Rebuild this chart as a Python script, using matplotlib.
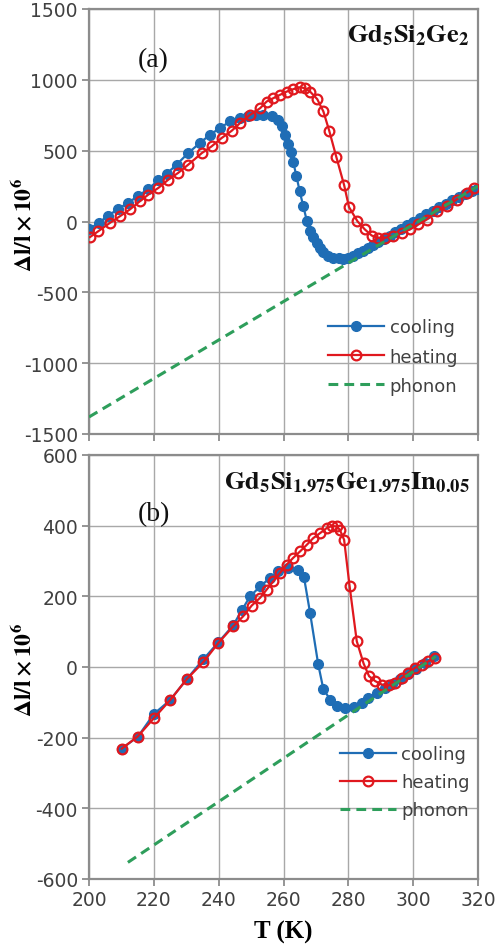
import matplotlib
matplotlib.use("Agg")
import matplotlib.pyplot as plt

# ---------------- data ----------------
# Panel (a) Gd5Si2Ge2
T_a_cool = [200, 203, 206, 209, 212, 215, 218.3, 221.4, 224, 227, 230.6, 234.2, 237.3, 240.4,
            243.5, 246.6, 249.1, 251.5, 253.8, 256.3, 258.2, 259.5, 260.5, 261.4, 262.2, 263,
            264, 265, 266.1, 267.2, 268.2, 269.2, 270.2, 271.3, 272.3, 273.8, 275.4, 277, 278.4,
            280, 281.5, 283, 284.6, 286.2, 287.7, 289.3, 291, 292.7, 294.4, 296.2, 298, 300, 302,
            304, 306, 308, 310, 312, 314, 316, 318, 319.6]
v_a_cool = [-55, -9, 42, 89, 131, 178, 230, 291, 338, 401, 483, 554, 612, 660,
            706, 730, 748, 755, 753, 742, 715, 672, 610, 550, 490, 420,
            319, 213, 108, 5, -68, -112, -150, -188, -218, -240, -255, -260, -262,
            -255, -242, -225, -205, -187, -165, -145, -122, -100, -76, -52, -28, 0, 25,
            50, 75, 100, 125, 150, 172, 195, 215, 232]

T_a_heat = [200.3, 202.9, 206.5, 209.6, 212.6, 215.7, 218.3, 221.4, 224.5, 227.5, 230.6, 234.8,
            237.8, 240.9, 244, 246.6, 249.7, 252.8, 254.8, 256.9, 258.9, 261, 263, 265.1, 266.6,
            268.2, 270.4, 272.3, 274.1, 276.3, 278.7, 280.2, 282.8, 285.1, 287.2, 289.2, 291.3,
            293.9, 296.5, 299, 301.6, 304.2, 307.3, 310.3, 313.4, 316.5, 318.8]
v_a_heat = [-110, -68, -9, 38, 85, 143, 190, 237, 296, 343, 401, 483,
            530, 589, 640, 695, 753, 800, 847, 871, 894, 917, 934, 948, 941,
            917, 864, 777, 641, 455, 257, 102, 2, -56, -99, -115, -115,
            -103, -80, -56, -21, 14, 73, 108, 155, 202, 237]

T_a_phon = [200, 320]
v_a_phon = [-1380, 250]

# Panel (b) Gd5Si1.975Ge1.975In0.05
T_b_cool = [210.1, 215.1, 220, 225, 230.1, 235.3, 239.9, 244.5, 247.1, 249.7, 252.8, 255.8,
            258.4, 261.5, 264.6, 266.3, 268.2, 270.7, 272.3, 274.4, 276.4, 279, 281.6, 284.1,
            286.2, 288.8, 291.3, 293.5, 296, 298.5, 301, 303.5, 306.5]
v_b_cool = [-231, -197, -133, -94, -35, 22, 70, 118, 160, 200, 228, 252,
            271, 281, 275, 255, 153, 8, -63, -92, -109, -115, -113, -101,
            -87, -73, -59, -48, -34, -20, -5, 10, 30]

T_b_heat = [210.1, 215, 220.1, 225, 230.1, 235.3, 239.9, 244.5, 247.6, 250.2, 252.8, 254.8,
            256.9, 258.9, 261, 263, 265.1, 267.2, 269.2, 271.3, 273.3, 274.9, 276.4, 277.4,
            278.7, 280.4, 282.6, 284.7, 286.4, 288.3, 290.4, 292.4, 294.4, 296.5, 298.5, 300.6,
            302.6, 304.7, 306.7]
v_b_heat = [-231, -197, -144, -94, -35, 14, 68, 115, 144, 174, 196, 219,
            243, 266, 290, 309, 327, 346, 365, 379, 393, 399, 398, 388,
            360, 228, 73, 10, -26, -40, -50, -52, -45, -31, -16, -2,
            7, 16, 26]

T_b_phon = [212, 307]
v_b_phon = [-553, 30]

x_ticks = [200, 220, 240, 260, 280, 300, 320]
y_ticks_a = [-1500, -1000, -500, 0, 500, 1000, 1500]
y_ticks_b = [-600, -400, -200, 0, 200, 400, 600]
labels = ["cooling", "heating", "phonon"]

# ---------------- style ----------------
BLUE = "#1F6DB5"
RED = "#E0181E"
GREEN = "#2E9E5B"
GRID = "#A8A8A8"
SPINE = "#8C8C8C"
TXT = "#404040"

plt.rcParams["mathtext.fontset"] = "stix"
plt.rcParams["font.family"] = ["DejaVu Sans"]
plt.rcParams["axes.unicode_minus"] = False

fig = plt.figure(figsize=(4.99, 9.45), dpi=100)
W, H = 499.0, 945.0
x0, x1 = 89, 478
ax_a = fig.add_axes([x0 / W, 1 - 435 / H, (x1 - x0) / W, (435 - 10) / H])
ax_b = fig.add_axes([x0 / W, 1 - 880 / H, (x1 - x0) / W, (880 - 456) / H])


def style(ax, yt, show_xlabels):
    ax.set_xlim(200, 320)
    ax.set_ylim(yt[0], yt[-1])
    ax.set_xticks(x_ticks)
    ax.set_yticks(yt)
    ax.grid(True, color=GRID, lw=1.0)
    ax.set_axisbelow(True)
    for s in ax.spines.values():
        s.set_color(SPINE)
        s.set_linewidth(1.6)
    ax.tick_params(axis="both", direction="out", length=5, width=1.3, color=SPINE,
                   labelsize=13.5, labelcolor=TXT, pad=3)
    if not show_xlabels:
        ax.tick_params(axis="x", labelbottom=False)
    ax.set_ylabel(r"$\mathbf{\Delta l/l \times 10^6}$", fontsize=17)


def draw(ax, Tc, vc, Th, vh, Tp, vp):
    ax.plot(Tc, vc, "-o", color=BLUE, lw=1.6, ms=7, mfc=BLUE, mec=BLUE, label=labels[0], zorder=3)
    ax.plot(Th, vh, "-o", color=RED, lw=1.6, ms=7, mfc="none", mec=RED, mew=1.6,
            label=labels[1], zorder=4)
    ax.plot(Tp, vp, "--", color=GREEN, lw=2.2, dashes=(3.2, 2.0), label=labels[2], zorder=5)


draw(ax_a, T_a_cool, v_a_cool, T_a_heat, v_a_heat, T_a_phon, v_a_phon)
draw(ax_b, T_b_cool, v_b_cool, T_b_heat, v_b_heat, T_b_phon, v_b_phon)
style(ax_a, y_ticks_a, False)
style(ax_b, y_ticks_b, True)

for ax in (ax_a, ax_b):
    ax.yaxis.set_label_coords(-0.134, 0.495)

ax_a.legend(loc="upper left", bbox_to_anchor=(0.615, 0.272), frameon=False, fontsize=13,
            handlelength=3.1, handletextpad=0.3, labelspacing=0.62, borderpad=0,
            borderaxespad=0, labelcolor=TXT)
ax_b.legend(loc="upper left", bbox_to_anchor=(0.645, 0.315), frameon=False, fontsize=13,
            handlelength=3.1, handletextpad=0.3, labelspacing=0.55, borderpad=0,
            borderaxespad=0, labelcolor=TXT)

ax_a.text(0.979, 0.941, r"$\mathbf{Gd_5Si_2Ge_2}$", transform=ax_a.transAxes,
          ha="right", va="center", fontsize=19, color="#111111")
ax_a.text(0.125, 0.882, "(a)", transform=ax_a.transAxes, ha="left", va="center",
          fontsize=20, family="Liberation Serif", color="#111111")
ax_b.text(0.979, 0.941, r"$\mathbf{Gd_5Si_{1.975}Ge_{1.975}In_{0.05}}$", transform=ax_b.transAxes,
          ha="right", va="center", fontsize=19, color="#111111")
ax_b.text(0.125, 0.861, "(b)", transform=ax_b.transAxes, ha="left", va="center",
          fontsize=20, family="Liberation Serif", color="#111111")

ax_b.set_xlabel("T (K)", fontsize=18, fontweight="bold", family="Liberation Serif",
                labelpad=8)

fig.savefig("out.png", dpi=100)
